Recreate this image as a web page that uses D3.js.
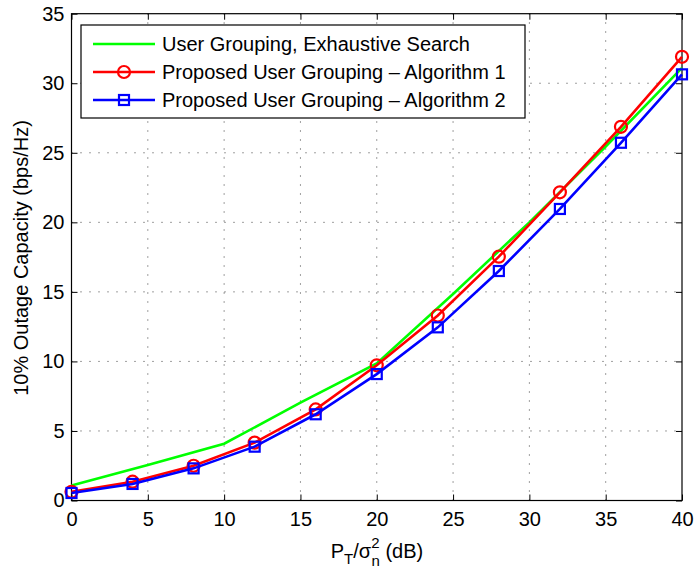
<!DOCTYPE html>
<html><head><meta charset="utf-8">
<script src="https://cdn.jsdelivr.net/npm/d3@7"></script>
<style>body{margin:0;background:#fff}svg{display:block}text{font-family:"Liberation Sans",Arial,sans-serif}</style>
</head><body>
<script>
const xTicks = [0,5,10,15,20,25,30,35,40];
const yTicks = [0,5,10,15,20,25,30,35];
const greenX = [0,5,10,15,20,25,30,35,40];
const greenY = [1.08,2.55,4.08,7.03,9.86,14.85,20.0,25.45,31.1];
const markX = [0,4,8,12,16,20,24,28,32,36,40];
const redY = [0.63,1.35,2.5,4.16,6.55,9.72,13.3,17.53,22.16,26.87,31.9];
const blueY = [0.54,1.19,2.31,3.87,6.2,9.09,12.45,16.5,20.96,25.72,30.64];
const legendLabels = ["User Grouping, Exhaustive Search","Proposed User Grouping \u2013 Algorithm 1","Proposed User Grouping \u2013 Algorithm 2"];

const W=696,H=571;
const L=71.5,R=682,T=13.7,B=500.5;
const FS=20;
const svg=d3.select("body").append("svg").attr("width",W).attr("height",H);
const x=d3.scaleLinear().domain([0,40]).range([L,R]);
const y=d3.scaleLinear().domain([0,35]).range([B,T]);

// grid
const g=svg.append("g");
g.selectAll(".gx").data(xTicks.slice(1,-1)).enter().append("line")
 .attr("x1",d=>x(d)).attr("x2",d=>x(d)).attr("y1",B).attr("y2",T)
 .attr("stroke","#000").attr("stroke-width",1).attr("stroke-dasharray","1,8").attr("opacity",0.75);
g.selectAll(".gy").data(yTicks.slice(1,-1)).enter().append("line")
 .attr("y1",d=>y(d)).attr("y2",d=>y(d)).attr("x1",L).attr("x2",R)
 .attr("stroke","#000").attr("stroke-width",1).attr("stroke-dasharray","1,8").attr("opacity",0.75);

// axes
const tl=6;
svg.append("g").attr("transform",`translate(0,${B})`)
 .call(d3.axisBottom(x).tickValues(xTicks).tickSizeInner(-tl).tickSizeOuter(0).tickPadding(11))
 .call(a=>{a.select(".domain").remove();a.selectAll("text").attr("font-size",FS).attr("fill","#000").attr("font-family","Liberation Sans, Arial");});
svg.append("g").attr("transform",`translate(0,${T})`)
 .call(d3.axisTop(x).tickValues(xTicks).tickSizeInner(-tl).tickSizeOuter(0).tickFormat(""))
 .call(a=>a.select(".domain").remove());
svg.append("g").attr("transform",`translate(${L},0)`)
 .call(d3.axisLeft(y).tickValues(yTicks).tickSizeInner(-tl).tickSizeOuter(0).tickPadding(7))
 .call(a=>{a.select(".domain").remove();a.selectAll("text").attr("font-size",FS).attr("fill","#000").attr("font-family","Liberation Sans, Arial");});
svg.append("g").attr("transform",`translate(${R},0)`)
 .call(d3.axisRight(y).tickValues(yTicks).tickSizeInner(-tl).tickSizeOuter(0).tickFormat(""))
 .call(a=>a.select(".domain").remove());
svg.append("rect").attr("x",L).attr("y",T).attr("width",R-L).attr("height",B-T)
 .attr("fill","none").attr("stroke","#000").attr("stroke-width",1.2);

const line=d3.line().x(d=>x(d[0])).y(d=>y(d[1]));
const lw=2.6;
const gData=greenX.map((v,i)=>[v,greenY[i]]);
const rData=markX.map((v,i)=>[v,redY[i]]);
const bData=markX.map((v,i)=>[v,blueY[i]]);
svg.append("path").datum(gData).attr("d",line).attr("fill","none").attr("stroke","#00ff00").attr("stroke-width",lw);
svg.append("path").datum(rData).attr("d",line).attr("fill","none").attr("stroke","#ff0000").attr("stroke-width",lw);
svg.selectAll(".rc").data(rData).enter().append("circle")
 .attr("cx",d=>x(d[0])).attr("cy",d=>y(d[1])).attr("r",6).attr("fill","none").attr("stroke","#ff0000").attr("stroke-width",2.2);
svg.append("path").datum(bData).attr("d",line).attr("fill","none").attr("stroke","#0000ff").attr("stroke-width",lw);
const sq=10;
svg.selectAll(".bs").data(bData).enter().append("rect")
 .attr("x",d=>x(d[0])-sq/2).attr("y",d=>y(d[1])-sq/2).attr("width",sq).attr("height",sq)
 .attr("fill","none").attr("stroke","#0000ff").attr("stroke-width",2.2);

// legend
const lg=svg.append("g");
lg.append("rect").attr("x",81).attr("y",25).attr("width",444).attr("height",93)
 .attr("fill","#fff").attr("stroke","#000").attr("stroke-width",1.2);
const cols=["#00ff00","#ff0000","#0000ff"];
legendLabels.forEach((t,i)=>{
  const yy=44+i*28;
  lg.append("line").attr("x1",93).attr("x2",155).attr("y1",yy).attr("y2",yy).attr("stroke",cols[i]).attr("stroke-width",lw);
  if(i===1) lg.append("circle").attr("cx",124).attr("cy",yy).attr("r",6).attr("fill","none").attr("stroke",cols[i]).attr("stroke-width",2.2);
  if(i===2) lg.append("rect").attr("x",124-sq/2).attr("y",yy-sq/2).attr("width",sq).attr("height",sq).attr("fill","none").attr("stroke",cols[i]).attr("stroke-width",2.2);
  lg.append("text").attr("x",162).attr("y",yy+7).attr("font-size",FS).attr("fill","#000").text(t);
});

// axis labels
const xl=svg.append("text").attr("x",377).attr("y",558).attr("text-anchor","middle").attr("font-size",FS);
xl.append("tspan").text("P");
xl.append("tspan").attr("font-size",15).attr("dy",6).text("T");
xl.append("tspan").attr("dy",-6).text("/\u03c3");
xl.append("tspan").attr("font-size",15).attr("dy",-10).text("2");
xl.append("tspan").attr("font-size",15).attr("dx",-8).attr("dy",18).text("n");
xl.append("tspan").attr("dy",-8).text(" (dB)");
svg.append("text").attr("transform","translate(28,258) rotate(-90)").attr("text-anchor","middle").attr("font-size",FS).text("10% Outage Capacity (bps/Hz)");
</script>
</body></html>
